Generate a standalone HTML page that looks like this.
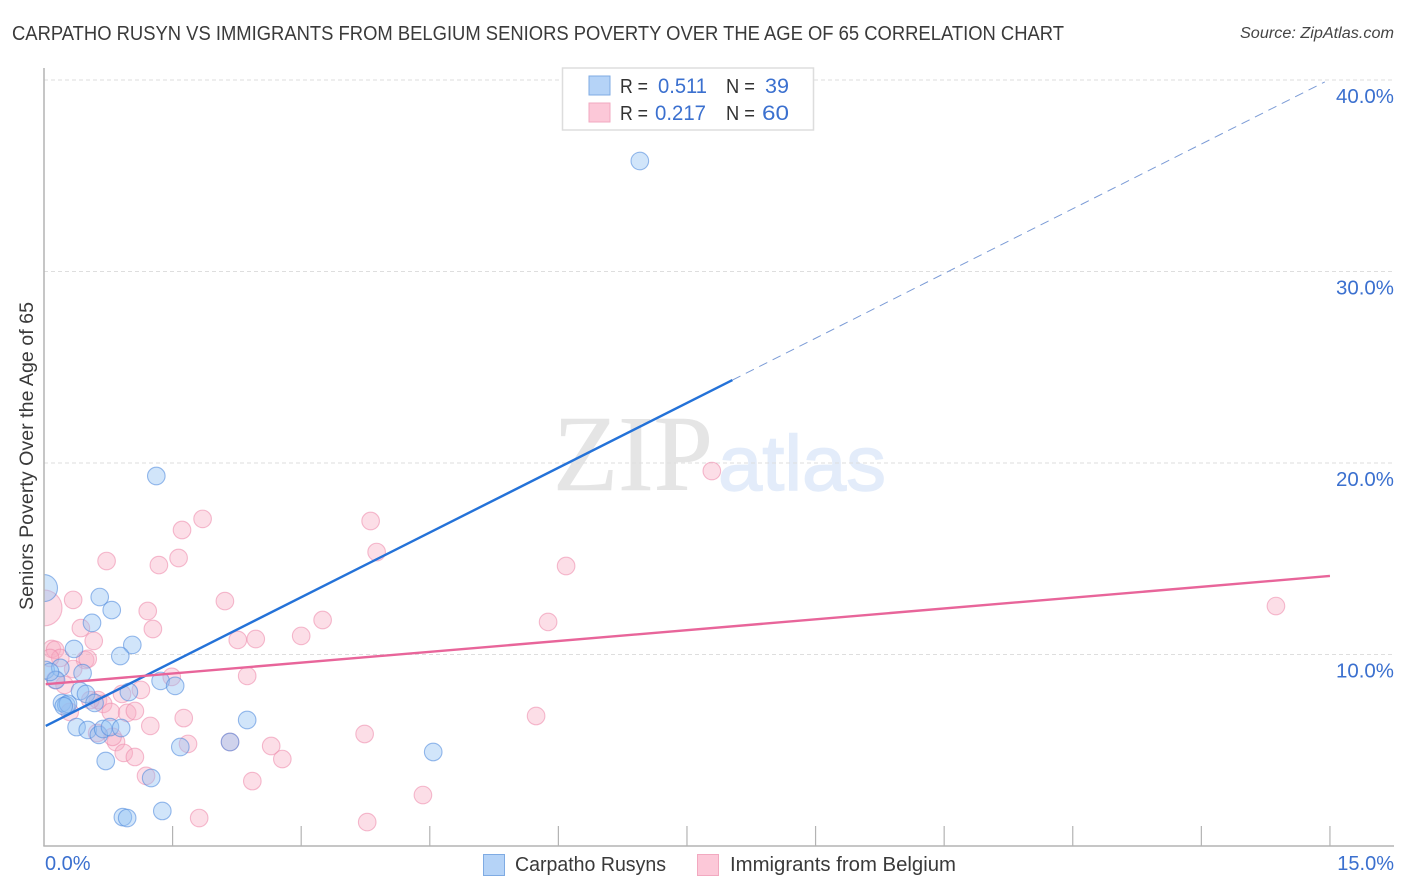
<!DOCTYPE html>
<html>
<head>
<meta charset="utf-8">
<title>Carpatho Rusyn vs Immigrants from Belgium Seniors Poverty Chart</title>
<style>
html,body{margin:0;padding:0;background:#fff;}
svg{display:block;font-family:"Liberation Sans",sans-serif;}
</style>
</head>
<body>
<svg id="chart" width="1406" height="892" viewBox="0 0 1406 892">
  <defs><clipPath id="plot-clip"><rect x="44" y="60" width="1360" height="786"/></clipPath></defs>
  <text x="12" y="40" font-size="20" fill="#3a3a3a" textLength="1052" lengthAdjust="spacingAndGlyphs">CARPATHO RUSYN VS IMMIGRANTS FROM BELGIUM SENIORS POVERTY OVER THE AGE OF 65 CORRELATION CHART</text>
  <text x="1394" y="38" font-size="15.5" font-style="italic" fill="#444" text-anchor="end" textLength="154" lengthAdjust="spacingAndGlyphs">Source: ZipAtlas.com</text>
  <text x="553" y="490" font-family="'Liberation Serif',serif" font-size="108" fill="#e5e5e5" stroke="#e5e5e5" stroke-width="0.6" textLength="160" lengthAdjust="spacingAndGlyphs">ZIP</text>
  <text x="718" y="490" font-size="78" fill="#e3ecfa" stroke="#e3ecfa" stroke-width="1.4" textLength="168" lengthAdjust="spacingAndGlyphs">atlas</text>
  <g id="grid"></g>
  <g id="points" clip-path="url(#plot-clip)"></g>
  <g id="trends"></g>
  <g id="axes"></g>
  <text transform="translate(33,456) rotate(-90)" font-size="19.5" fill="#3a3a3a" text-anchor="middle" textLength="308" lengthAdjust="spacingAndGlyphs">Seniors Poverty Over the Age of 65</text>

  <g>
    <rect x="562.5" y="68" width="251" height="62" fill="#fff" stroke="#ddd" stroke-width="1.5"/>
    <rect x="589" y="76" width="21" height="19" fill="#b5d3f7" stroke="#7fabe3" stroke-width="1"/>
    <rect x="589" y="103" width="21" height="19" fill="#fcc8d8" stroke="#f2a9c0" stroke-width="1"/>
    <text x="620" y="93" font-size="20" fill="#333" textLength="28" lengthAdjust="spacingAndGlyphs">R =</text>
    <text x="658" y="93" font-size="21" fill="#3b70cf" textLength="49" lengthAdjust="spacingAndGlyphs">0.511</text>
    <text x="726" y="93" font-size="20" fill="#333" textLength="29" lengthAdjust="spacingAndGlyphs">N =</text>
    <text x="765" y="93" font-size="21" fill="#3b70cf" textLength="24" lengthAdjust="spacingAndGlyphs">39</text>
    <text x="620" y="120" font-size="20" fill="#333" textLength="28" lengthAdjust="spacingAndGlyphs">R =</text>
    <text x="655" y="120" font-size="21" fill="#3b70cf" textLength="51" lengthAdjust="spacingAndGlyphs">0.217</text>
    <text x="726" y="120" font-size="20" fill="#333" textLength="29" lengthAdjust="spacingAndGlyphs">N =</text>
    <text x="762" y="120" font-size="21" fill="#3b70cf" textLength="27" lengthAdjust="spacingAndGlyphs">60</text>
  </g>

  <g>
    <rect x="483.5" y="854.5" width="21" height="21" fill="#b5d3f7" stroke="#7fabe3"/>
    <text x="515" y="871" font-size="20" fill="#3a3a3a" textLength="151" lengthAdjust="spacingAndGlyphs">Carpatho Rusyns</text>
    <rect x="697.5" y="854.5" width="21" height="21" fill="#fcc8d8" stroke="#f2a9c0"/>
    <text x="730" y="871" font-size="20" fill="#3a3a3a" textLength="226" lengthAdjust="spacingAndGlyphs">Immigrants from Belgium</text>
  </g>
</svg>
<script>
const blueX = [0.0,6.95,1.31,0.65,0.79,0.56,1.03,0.89,0.35,0.02,0.19,0.45,0.14,0.07,1.36,1.53,0.42,0.49,0.99,0.59,0.21,0.26,0.28,0.23,2.37,0.38,0.51,0.64,0.69,0.77,0.90,1.59,2.17,4.54,0.72,1.25,1.38,0.92,0.97];
const blueY = [13.47,35.77,19.32,13.0,12.32,11.65,10.50,9.92,10.29,9.19,9.30,9.03,8.67,9.09,8.62,8.36,8.09,7.94,8.04,7.47,7.47,7.36,7.42,7.30,6.58,6.21,6.06,5.80,6.11,6.21,6.16,5.17,5.43,4.91,4.44,3.55,1.83,1.51,1.46];
const pinkX = [7.79,1.85,1.61,3.81,3.88,0.73,1.57,1.34,6.09,0.34,0.0,2.11,1.21,1.27,3.25,5.88,0.43,0.58,2.26,2.47,3.0,14.37,0.09,0.13,0.19,0.48,0.51,0.07,0.34,1.49,2.37,0.24,1.13,0.91,0.63,0.69,0.78,0.97,1.06,0.30,5.74,1.63,1.24,3.74,2.17,1.68,2.65,2.78,0.84,0.93,1.06,0.80,0.62,1.19,2.43,4.42,1.81,3.77,0.54,0.13];
const pinkY = [19.58,17.08,16.5,16.97,15.35,14.88,15.04,14.67,14.62,12.85,12.43,12.79,12.27,11.33,11.8,11.7,11.38,10.71,10.76,10.81,10.97,12.53,10.29,10.24,9.82,9.71,9.77,9.82,9.24,8.83,8.88,8.41,8.15,7.94,7.62,7.42,7.0,6.95,7.05,7.0,6.79,6.68,6.27,5.85,5.43,5.33,5.22,4.54,5.43,4.86,4.65,5.70,5.90,3.66,3.39,2.66,1.46,1.25,7.62,8.67];
const blueLargeIndex = [0];
const pinkLargeIndex = [10];
const blueTrendX = [0.02,8.03,14.94];
const blueTrendY = [6.27,24.33,39.9];
const pinkTrendX = [0.02,15.0];
const pinkTrendY = [8.45,14.1];
const yTickValues = [10,20,30,40];
const yTickLabels = ['10.0%','20.0%','30.0%','40.0%'];
const xTickValues = [1.5,3,4.5,6,7.5,9,10.5,12,13.5,15];
const xEndLabels = ['0.0%','15.0%'];

const NS = 'http://www.w3.org/2000/svg';
const sx = v => 44 + v * 85.73;
const sy = v => 846 - v * 19.15;
const make = (tag, attrs, parent) => {
  const el = document.createElementNS(NS, tag);
  for (const k in attrs) el.setAttribute(k, attrs[k]);
  parent.appendChild(el);
  return el;
};
const grid = document.getElementById('grid');
const axes = document.getElementById('axes');
const points = document.getElementById('points');
const trends = document.getElementById('trends');

yTickValues.forEach((v, i) => {
  const line = make('line', {x1:44, x2:1394, y1:sy(v), y2:sy(v), stroke:'#dedede', 'stroke-width':1, 'stroke-dasharray':'4 3'}, grid);
  
  
  const label = make('text', {x:1394, y:sy(v) + 23, 'font-size':20, fill:'#3b70cf', 'text-anchor':'end', textLength:58, lengthAdjust:'spacingAndGlyphs'}, axes);
  label.textContent = yTickLabels[i];
  
  
});

const yAxis = make('line', {x1:44, x2:44, y1:68, y2:846, stroke:'#b3b3b3', 'stroke-width':1.5}, axes);


const xAxis = make('line', {x1:43.3, x2:1394, y1:846, y2:846, stroke:'#b3b3b3', 'stroke-width':1.5}, axes);



xTickValues.forEach(v => {
  const tick = make('line', {x1:sx(v), x2:sx(v), y1:826, y2:846, stroke:'#b3b3b3', 'stroke-width':1.2}, axes);
  
  
});

const xStart = make('text', {x:45, y:870, 'font-size':20, fill:'#3b70cf'}, axes);
xStart.textContent = xEndLabels[0];


const xEnd = make('text', {x:1394, y:870, 'font-size':20, fill:'#3b70cf', 'text-anchor':'end'}, axes);
xEnd.textContent = xEndLabels[1];



pinkX.forEach((v, i) => {
  const r = pinkLargeIndex.includes(i) ? 18 : 8.8;
  const c = make('circle', {cx:sx(v), cy:sy(pinkY[i]), r:r, fill:'rgba(248,172,196,0.40)', stroke:'rgba(238,140,172,0.58)', 'stroke-width':1.1}, points);
  
  
});
blueX.forEach((v, i) => {
  const r = blueLargeIndex.includes(i) ? 13.5 : 8.8;
  const c = make('circle', {cx:sx(v), cy:sy(blueY[i]), r:r, fill:'rgba(146,192,244,0.42)', stroke:'rgba(80,138,220,0.58)', 'stroke-width':1.1}, points);
  
  
});

const blueSolid = make('line', {x1:sx(blueTrendX[0]), y1:sy(blueTrendY[0]), x2:sx(blueTrendX[1]), y2:sy(blueTrendY[1]), stroke:'#2472d8', 'stroke-width':2.4}, trends);


const blueDash = make('line', {x1:sx(blueTrendX[1]), y1:sy(blueTrendY[1]), x2:sx(blueTrendX[2]), y2:sy(blueTrendY[2]), stroke:'#7b9bd6', 'stroke-width':1, 'stroke-dasharray':'9 6'}, trends);


const pinkLine = make('line', {x1:sx(pinkTrendX[0]), y1:sy(pinkTrendY[0]), x2:sx(pinkTrendX[1]), y2:sy(pinkTrendY[1]), stroke:'#e8659a', 'stroke-width':2.4}, trends);


</script>
</body>
</html>
